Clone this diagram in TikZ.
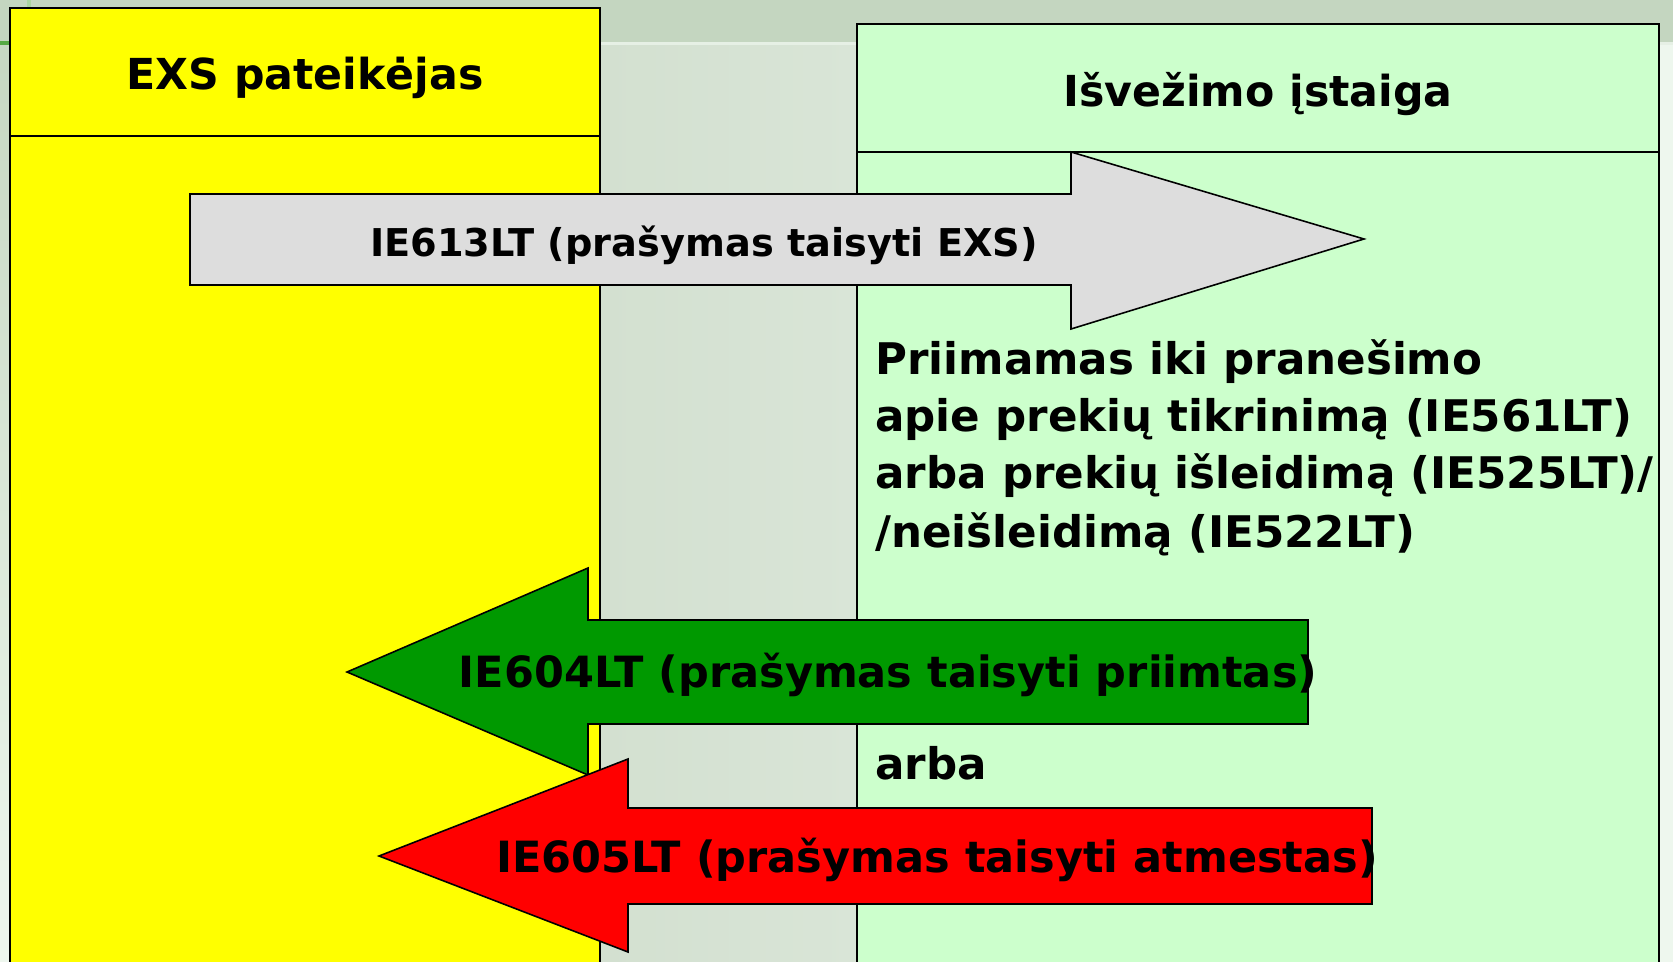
\documentclass[tikz,border=0pt]{standalone}
\usepackage{fontspec}
\setmainfont{DejaVu Sans}
\usetikzlibrary{positioning}

\definecolor{bandgreen}{HTML}{C4D6C0}
\definecolor{bgmid}{HTML}{D3E0D0}
\definecolor{bgmidlight}{HTML}{D9E5D7}
\definecolor{bglight}{HTML}{EEF7EE}
\definecolor{exsyellow}{HTML}{FFFF00}
\definecolor{officegreen}{HTML}{CCFFCC}
\definecolor{msggray}{HTML}{DDDDDD}
\definecolor{msggreen}{HTML}{009900}
\definecolor{msgred}{HTML}{FF0000}
\definecolor{markgreen}{HTML}{55AA44}

\begin{document}
\begin{tikzpicture}[x=0.02cm,y=-0.02cm,
  lane/.style={draw=black,line width=1.15pt},
  msgarrow/.style={draw=black,line width=0.9pt,line join=miter},
  lanetitle/.style={inner sep=0pt,font=\fontsize{24.3}{29}\selectfont\bfseries},
  msgtext/.style={inner sep=0pt,font=\fontsize{24.5}{29}\selectfont\bfseries},
  notetext/.style={anchor=base west,inner sep=0pt,font=\fontsize{24.8}{32}\selectfont\bfseries}]
  \useasboundingbox (0,0) rectangle (1673,962);
  \clip (0,0) rectangle (1673,962);
  % slide background
  \fill[bgmid] (0,0) rectangle (1673,962);
  \shade[top color=bandgreen,bottom color=bglight] (0,0) rectangle (10,962);
  \shade[left color=bgmid,right color=bgmidlight] (600,45) rectangle (857,962);
  \fill[bglight] (1659,45) rectangle (1673,962);
  \fill[bandgreen] (0,0) rectangle (1673,42);
  \fill[bglight!70!bgmid] (600,42) rectangle (857,45);
  \fill[bglight!70!bgmid] (1659,42) rectangle (1673,45);
  \fill[markgreen] (0,41) rectangle (9,45);
  \fill[markgreen!50!white] (27,0) rectangle (31,8);
  % lanes
  \draw[lane,fill=exsyellow] (10,8) rectangle (600,990);
  \draw[lane] (10,136) -- (600,136);
  \draw[lane,fill=officegreen] (857,24) rectangle (1659,990);
  \draw[lane] (857,152) -- (1659,152);
  \node[lanetitle] (exs) at (305,78) {EXS pateikėjas};
  \node[lanetitle] (office) at (1258,94) {Išvežimo įstaiga};
  % messages
  \draw[msgarrow,fill=msggray] (190,194) -- (1071,194) -- (1071,152) -- (1364,239)
    -- (1071,329) -- (1071,285) -- (190,285) -- cycle;
  \node[msgtext,font=\fontsize{21.8}{26}\selectfont\bfseries] (ie613) at (704,245) {IE613LT (prašymas taisyti EXS)};
  \node[notetext] (note1) at (875,375) {Priimamas iki pranešimo};
  \node[notetext] (note2) at (875,432) {apie prekių tikrinimą (IE561LT)};
  \node[notetext] (note3) at (875,489) {arba prekių išleidimą (IE525LT)/};
  \node[notetext] (note4) at (875,547) {/neišleidimą (IE522LT)};
  \draw[msgarrow,fill=msggreen] (1308,620) -- (588,620) -- (588,568) -- (347,672)
    -- (588,775) -- (588,724) -- (1308,724) -- cycle;
  \node[msgtext] (ie604) at (888,675) {IE604LT (prašymas taisyti priimtas)};
  \node[notetext] (or) at (875,779) {arba};
  \draw[msgarrow,fill=msgred] (1372,808) -- (628,808) -- (628,759) -- (379,856)
    -- (628,952) -- (628,904) -- (1372,904) -- cycle;
  \node[msgtext] (ie605) at (937,860) {IE605LT (prašymas taisyti atmestas)};
\end{tikzpicture}
\end{document}
